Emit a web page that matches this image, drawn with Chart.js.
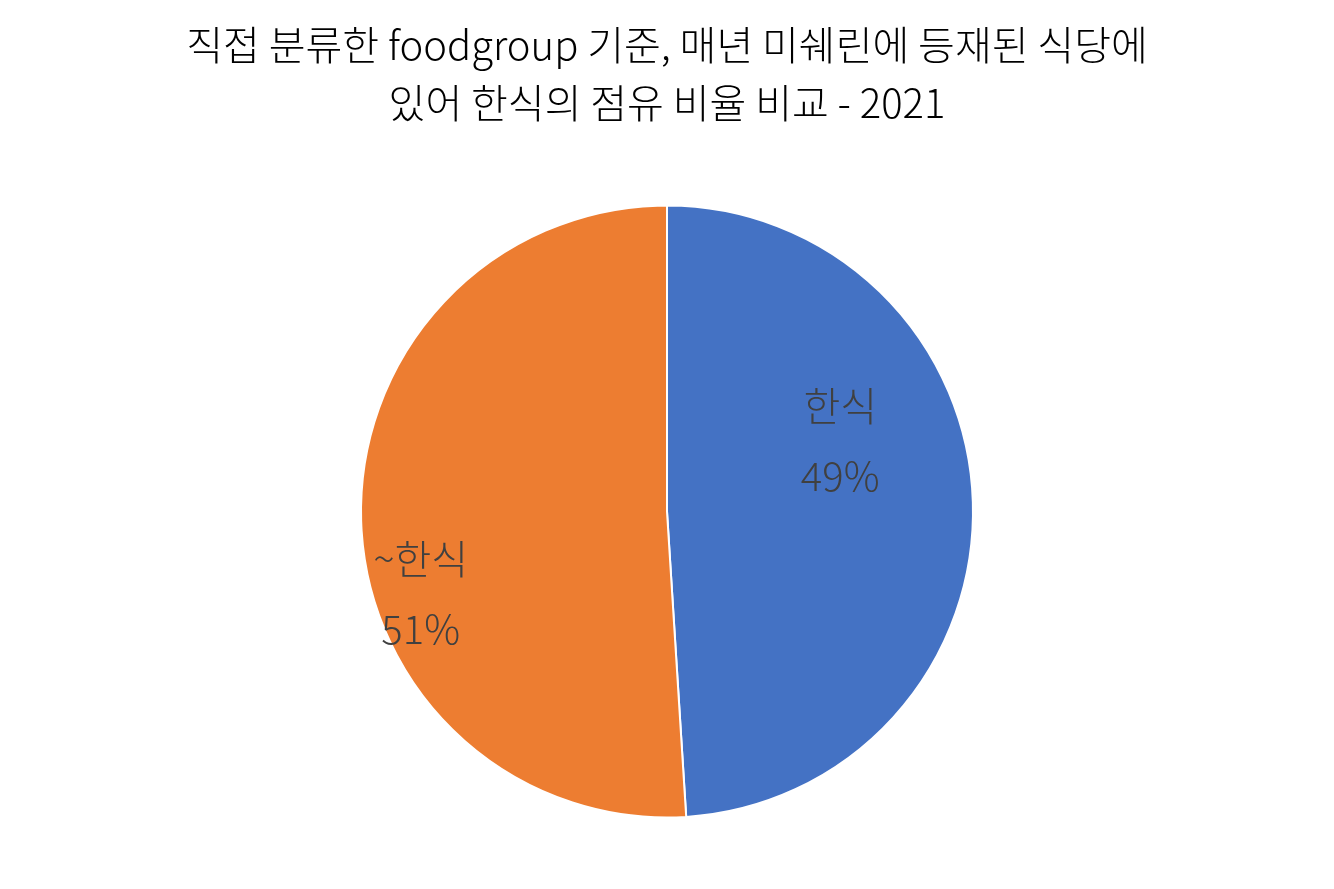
<!DOCTYPE html>
<html>
<head>
<meta charset="utf-8">
<script src="https://cdn.jsdelivr.net/npm/chart.js@4/dist/chart.umd.min.js"></script>
<style>
    body { margin: 0; background: #fff; }
    #box { width: 1334px; height: 889px; }
</style>
</head>
<body>
<div id="box"><canvas id="grafico"></canvas></div>
<script>
var categorias = ['한식', '~한식'];
var valores = [49, 51];
var cores = ['#4472C4', '#ED7D31'];
var titulo = ['직접 분류한 foodgroup 기준, 매년 미쉐린에 등재된 식당에', '있어 한식의 점유 비율 비교 - 2021'];

// posição do rótulo de cada fatia, em frações do raio a partir do centro
var posRotulo = [[0.566, -0.232], [-0.805, 0.268]];

var rotulos = {
    id: 'rotulos',
    afterDatasetsDraw(chart) {
        var ctx = chart.ctx;
        var meta = chart.getDatasetMeta(0);
        var total = valores.reduce((a, b) => a + b, 0);
        ctx.save();
        ctx.fillStyle = '#404040';
        ctx.font = '300 40px "Noto Sans CJK KR"';
        ctx.textAlign = 'center';
        ctx.textBaseline = 'middle';
        meta.data.forEach(function (arc, i) {
            var r = arc.outerRadius;
            var x = arc.x + posRotulo[i][0] * r;
            var y = arc.y + posRotulo[i][1] * r;
            var pct = Math.round(valores[i] / total * 100) + '%';
            ctx.fillText(categorias[i], x, y - 35);
            ctx.fillText(pct, x, y + 35);
        });
        ctx.restore();
    }
};

new Chart(document.getElementById('grafico'), {
    type: 'pie',
    data: {
        labels: categorias,
        datasets: [{
            data: valores,
            backgroundColor: cores,
            borderColor: '#ffffff',
            borderWidth: 2
        }]
    },
    options: {
        responsive: true,
        maintainAspectRatio: false,
        animation: false,
        radius: 306,
        layout: { padding: { bottom: 10 } },
        plugins: {
            legend: { display: false },
            tooltip: { enabled: false },
            title: {
                display: true,
                text: titulo,
                color: '#000000',
                font: { family: '"Noto Sans CJK KR"', size: 40, weight: '300', lineHeight: 1.45 },
                padding: { top: 16, bottom: 12 }
            }
        }
    },
    plugins: [rotulos]
});
</script>
</body>
</html>
